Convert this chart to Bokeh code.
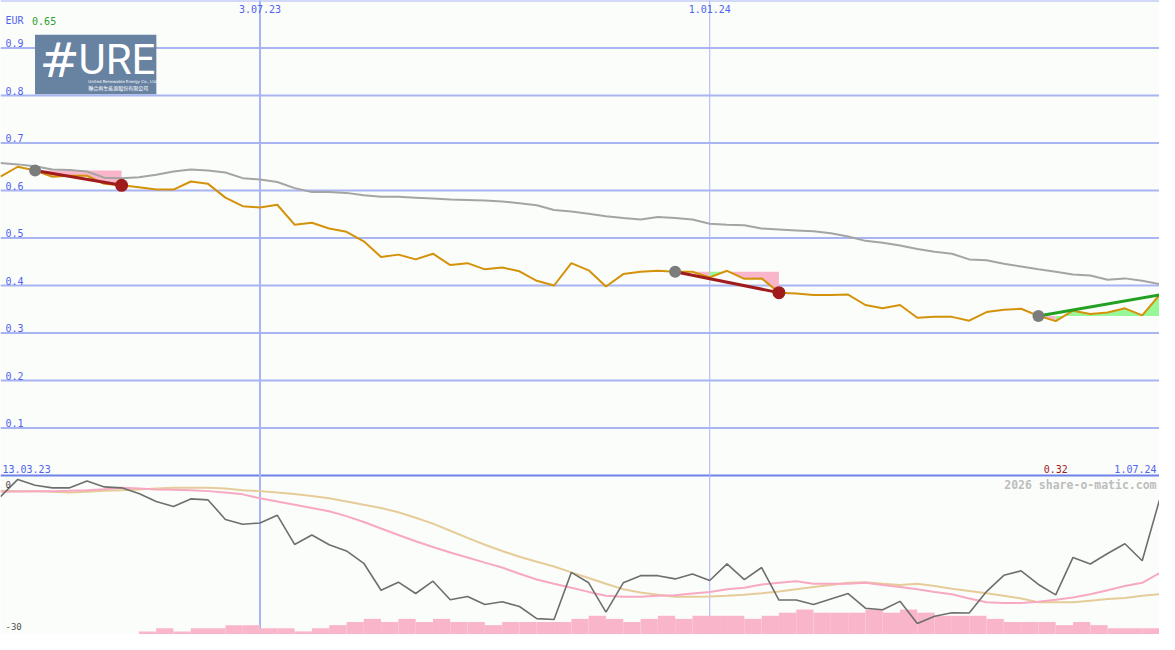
import pandas as pd
from bokeh.plotting import figure
from bokeh.models import Range1d, Span, Label, BoxAnnotation
from bokeh.core.properties import value
from bokeh.embed import file_html
from bokeh.resources import INLINE

# ---------------- data ----------------
dates = pd.date_range("2023-03-20", periods=68, freq="7D")

price = [0.629, 0.650, 0.642, 0.629, 0.631, 0.631, 0.614, 0.611, 0.607, 0.602,
         0.602, 0.619, 0.614, 0.585, 0.567, 0.564, 0.570, 0.528, 0.532, 0.520,
         0.513, 0.493, 0.460, 0.465, 0.455, 0.467, 0.443, 0.447, 0.434, 0.438,
         0.430, 0.410, 0.400, 0.447, 0.432, 0.398, 0.424, 0.429, 0.431, 0.429,
         0.429, 0.417, 0.431, 0.414, 0.415, 0.385, 0.383, 0.380, 0.380, 0.381,
         0.359, 0.352, 0.359, 0.332, 0.334, 0.334, 0.326, 0.344, 0.349, 0.351,
         0.336, 0.325, 0.347, 0.340, 0.343, 0.352, 0.337, 0.380]

ma_long = [0.658, 0.655, 0.651, 0.644, 0.643, 0.640, 0.627, 0.626, 0.628, 0.633,
           0.640, 0.644, 0.642, 0.638, 0.626, 0.623, 0.618, 0.605, 0.597, 0.597,
           0.595, 0.590, 0.587, 0.587, 0.585, 0.583, 0.581, 0.580, 0.579, 0.577,
           0.573, 0.569, 0.559, 0.556, 0.551, 0.546, 0.542, 0.539, 0.544, 0.542,
           0.539, 0.530, 0.528, 0.527, 0.520, 0.518, 0.516, 0.514, 0.510, 0.503,
           0.494, 0.490, 0.484, 0.477, 0.471, 0.467, 0.455, 0.453, 0.446, 0.440,
           0.434, 0.429, 0.423, 0.421, 0.412, 0.415, 0.410, 0.403]

ind_main = [-2.60, 1.03, -0.21, -0.75, -0.75, 0.68, -0.55, -0.75, -1.92, -3.63,
            -4.66, -3.08, -3.29, -7.40, -8.42, -8.15, -6.51, -12.67, -10.68, -12.74,
            -14.04, -16.64, -22.33, -20.62, -23.01, -20.41, -24.32, -23.63, -25.34, -24.73,
            -25.75, -28.29, -28.49, -18.56, -20.75, -26.92, -20.75, -19.25, -19.25, -19.93,
            -18.90, -20.27, -16.78, -20.07, -17.53, -24.38, -24.38, -25.34, -24.18, -23.01,
            -26.10, -26.44, -24.66, -29.32, -27.81, -27.05, -27.12, -22.60, -19.18, -18.22,
            -21.10, -23.29, -15.41, -16.78, -14.59, -12.53, -16.10, -3.29]

ind_fast = [-1.58, -1.51, -1.44, -1.44, -1.37, -1.23, -1.03, -0.75, -0.89, -1.10,
            -1.16, -1.23, -1.44, -1.71, -2.12, -2.95, -3.63, -4.32, -5.00, -5.68,
            -6.71, -7.94, -9.32, -10.68, -11.99, -13.22, -14.38, -15.41, -16.51, -17.53,
            -18.84, -20.07, -20.96, -21.78, -22.67, -23.49, -23.70, -23.70, -23.49, -23.36,
            -23.01, -22.67, -22.12, -21.78, -21.10, -20.75, -20.41, -20.96, -20.96, -20.96,
            -20.75, -21.23, -21.64, -22.12, -22.67, -23.15, -24.04, -24.86, -25.00, -25.00,
            -24.73, -24.32, -23.84, -23.15, -22.33, -21.44, -20.75, -18.70]

ind_slow = [-1.37, -1.44, -1.44, -1.58, -1.71, -1.58, -1.37, -1.23, -1.10, -0.89,
            -0.75, -0.75, -0.75, -0.89, -1.23, -1.44, -1.71, -2.05, -2.47, -2.95,
            -3.63, -4.32, -5.00, -5.89, -7.05, -8.29, -9.79, -11.30, -12.74, -14.04,
            -15.27, -16.30, -17.33, -18.56, -19.73, -20.96, -22.12, -22.81, -23.29, -23.70,
            -23.70, -23.63, -23.49, -23.29, -22.95, -22.60, -22.12, -21.64, -21.23, -20.75,
            -20.62, -20.96, -21.23, -20.96, -21.44, -21.99, -22.47, -22.95, -23.49, -24.04,
            -24.86, -24.86, -24.86, -24.52, -24.18, -23.97, -23.49, -23.15]

volume = [0, 0, 0, 0, 0, 0, 0, 0, 1, 2, 1, 2, 2, 3, 3, 2, 2, 1, 2, 3,
          4, 5, 4, 5, 4, 5, 4, 4, 3, 4, 4, 4, 4, 5, 6, 5, 4, 5, 6, 5,
          6, 6, 6, 5, 6, 7, 8, 7, 7, 7, 8, 7, 8, 7, 6, 6, 6, 5, 4, 4,
          4, 3, 4, 3, 2, 2, 2]

# trends: start / end index, colour, closed (has end dot)
trend_start = [2, 39, 60]
trend_end = [7, 45, 67]
trend_kind = ["down", "down", "up"]
trend_closed = [True, True, False]

# shaded zones (index from, index to, kind) relative to the trend start level
zone_from = [2, 39, 41, 42, 60, 61]
zone_to = [7, 41, 42, 45, 61, 67]
zone_trend = [0, 1, 1, 1, 2, 2]
zone_kind = ["neg", "neg", "pos", "neg", "neg", "pos"]

price_grid = [0.1, 0.2, 0.3, 0.4, 0.5, 0.6, 0.7, 0.8, 0.9]
date_marks = [pd.Timestamp("2023-07-03"), pd.Timestamp("2024-01-01")]
date_mark_labels = ["3.07.23", "1.01.24"]
date_mark_width = [2, 1]
ind_labels = [0, -30]
currency = "EUR"
high_label = "0.65"
low_label = "0.32"
first_label = "13.03.23"
last_label = "1.07.24"

# ---------------- style ----------------
W, H = 1159, 634
KX, KY = W / 1175, H / 650
BG = "#fbfdfb"
GRID = "#a8b5f2"
SEP = "#6f82ea"
BLUE = "#5063ee"
MONO_NAME = "DejaVu Sans Mono"
MONO = value(MONO_NAME)
ORANGE = "#d4920a"
GREY = "#a4a4a4"
DARKRED = "#a01c1c"
GREEN = "#22a022"
PINKFILL = "#f9b6ca"
GREENFILL = "#98f898"


def sy(y):
    return H - y * KY


p = figure(width=W, height=H, output_backend="svg", toolbar_location=None,
           x_axis_location=None, y_axis_location=None,
           x_range=Range1d(dates[0], dates[-1]),
           y_range=Range1d(-163 / 487, 1.0),
           min_border=0, background_fill_color=BG, border_fill_color=BG,
           outline_line_color=None)
p.xgrid.visible = False
p.ygrid.visible = False
p.extra_y_ranges = {"ind": Range1d(-154 / (146 / 30), 496 / (146 / 30)),
                    "vol": Range1d(0, 650 / 3.2)}

# grid
for g in price_grid:
    p.add_layout(Span(location=g, dimension="width", line_color=GRID,
                      line_width=2, level="underlay"))
p.add_layout(Span(location=0, dimension="width", line_color=SEP,
                  line_width=2, level="underlay"))
p.add_layout(Span(location=1.0, dimension="width", line_color=GRID,
                  line_width=2, level="underlay"))
for d, lw in zip(date_marks, date_mark_width):
    p.add_layout(Span(location=d, dimension="height", line_color=GRID,
                      line_width=lw, level="underlay"))

# volume bars
half = pd.Timedelta(days=3.5)
p.vbar(x=[d + half for d in dates[:len(volume)]], top=volume, bottom=0,
       width=7 * 24 * 3600 * 1000, y_range_name="vol",
       fill_color=PINKFILL, line_color=None)

# indicator lines
p.line(dates, ind_slow, y_range_name="ind", line_color="#e6cc98", line_width=2)
p.line(dates, ind_fast, y_range_name="ind", line_color="#f7a9c2", line_width=2)
p.line(dates, ind_main, y_range_name="ind", line_color="#6e6e6e", line_width=1.6)

# trend zones
for a, b, t, k in zip(zone_from, zone_to, zone_trend, zone_kind):
    base = price[trend_start[t]]
    p.varea(x=dates[a:b + 1], y1=[base] * (b + 1 - a), y2=price[a:b + 1],
            fill_color=PINKFILL if k == "neg" else GREENFILL)

# price and moving average
p.line(dates, ma_long, line_color=GREY, line_width=2)
p.line(dates, price, line_color=ORANGE, line_width=2)

# trend lines and dots
for s, e, k, c in zip(trend_start, trend_end, trend_kind, trend_closed):
    col = DARKRED if k == "down" else GREEN
    p.line([dates[s], dates[e]], [price[s], price[e]], line_color=col, line_width=3)
    p.scatter([dates[s]], [price[s]], size=12, fill_color="#7c7c7c", line_color=None)
    if c:
        p.scatter([dates[e]], [price[e]], size=13, fill_color=DARKRED, line_color=None)

# labels: price grid
p.text(x=[dates[0]] * len(price_grid), y=price_grid,
       text=[f"{g:.1f}" for g in price_grid], x_offset=5, y_offset=-1,
       text_baseline="bottom", text_font=MONO, text_font_size="10px",
       text_color=BLUE)
# date marks
p.text(x=date_marks, y=[1.0] * len(date_marks), text=date_mark_labels,
       text_align="center", text_baseline="top", y_offset=4,
       text_font=MONO, text_font_size="10px", text_color=BLUE)
# bottom-of-price-panel labels
p.text(x=[dates[0]], y=[0], text=[first_label], x_offset=2, y_offset=-3,
       text_baseline="bottom", text_font=MONO, text_font_size="10px", text_color=BLUE)
p.text(x=[dates[-1]], y=[0], text=[last_label], x_offset=-3, y_offset=-3,
       text_align="right", text_baseline="bottom", text_font=MONO,
       text_font_size="10px", text_color=BLUE)
imin = price.index(min(price))
p.text(x=[dates[imin]], y=[0], text=[low_label], y_offset=-3,
       text_align="center", text_baseline="bottom", text_font=MONO,
       text_font_size="10px", text_color=DARKRED)
# indicator labels
p.text(x=[dates[0]] * 2, y=ind_labels, text=[str(v) for v in ind_labels],
       y_range_name="ind", x_offset=5, text_baseline="middle",
       text_font=MONO, text_font_size="9px", text_color="#505050")

# header labels
p.add_layout(Label(x=5 * KX, y=sy(21), x_units="screen", y_units="screen",
                   text=currency, text_baseline="middle", text_font=MONO_NAME,
                   text_font_size="10px", text_color=BLUE))
p.add_layout(Label(x=32 * KX, y=sy(21), x_units="screen", y_units="screen",
                   text=high_label, text_baseline="middle", text_font=MONO_NAME,
                   text_font_size="10px", text_color="#2e9e2e"))
p.add_layout(Label(x=1172 * KX, y=sy(497), x_units="screen", y_units="screen",
                   text="2026 share-o-matic.com", text_align="right",
                   text_baseline="middle", text_font=MONO_NAME, text_font_style="bold",
                   text_font_size="11.5px", text_color="#bdbdbd"))

# logo
p.add_layout(BoxAnnotation(left=35 * KX, right=158 * KX, top=sy(35), bottom=sy(96),
                           left_units="screen", right_units="screen",
                           top_units="screen", bottom_units="screen",
                           fill_color="#6882a2", fill_alpha=1, line_color=None,
                           level="annotation"))
p.add_layout(Label(x=60 * KX, y=sy(61), x_units="screen", y_units="screen",
                   text="#", text_align="center", text_baseline="middle",
                   text_font="DejaVu Sans",
                   text_font_size="48px", text_color="white"))
p.add_layout(Label(x=118 * KX, y=sy(60), x_units="screen", y_units="screen",
                   text="URE", text_align="center", text_baseline="middle",
                   text_font="Roboto",
                   text_font_size="42px", text_color="white"))
p.add_layout(Label(x=89 * KX, y=sy(83), x_units="screen", y_units="screen",
                   text="United Renewable Energy Co., Ltd.", text_baseline="middle",
                   text_font="DejaVu Sans", text_font_size="4px",
                   text_color="white"))
p.add_layout(Label(x=89 * KX, y=sy(89), x_units="screen", y_units="screen",
                   text="聯合再生能源股份有限公司", text_baseline="middle",
                   text_font="Noto Sans CJK TC", text_font_size="5px",
                   text_color="white"))

open("out.html", "w").write(file_html(p, INLINE))
